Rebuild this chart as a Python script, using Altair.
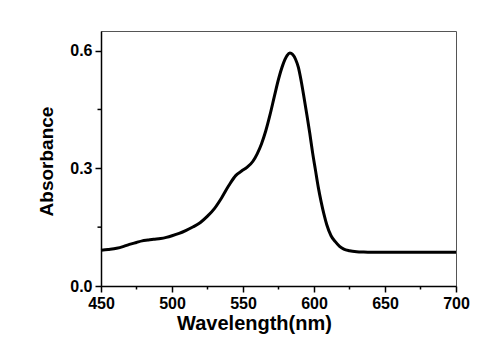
import altair as alt
import pandas as pd

wavelength = [450, 455, 461, 466, 470, 475, 479, 483, 487, 492, 496, 500, 505, 510, 515,
              520, 525, 530, 535, 540, 545, 549, 553, 557, 560, 563, 566, 569, 572, 575,
              578, 581, 583, 585, 587, 589, 591, 593, 595, 597, 599, 601, 603, 605, 607,
              609, 612, 615, 618, 621, 625, 630, 635, 640, 660, 680, 700]
absorbance = [0.091, 0.093, 0.096, 0.101, 0.106, 0.111, 0.115, 0.117, 0.119, 0.121, 0.124,
              0.128, 0.134, 0.142, 0.151, 0.162, 0.178, 0.198, 0.225, 0.256, 0.282, 0.293,
              0.303, 0.318, 0.337, 0.362, 0.395, 0.436, 0.482, 0.527, 0.563, 0.587, 0.594,
              0.590, 0.578, 0.557, 0.522, 0.480, 0.436, 0.390, 0.340, 0.296, 0.252, 0.215,
              0.183, 0.156, 0.128, 0.113, 0.101, 0.094, 0.090, 0.0875, 0.0865, 0.086, 0.086,
              0.086, 0.086]
x_major = [450, 500, 550, 600, 650, 700]
x_minor = [475, 525, 575, 625, 675]
y_major = [0.0, 0.3, 0.6]
y_minor = [0.15, 0.45]

FONT = "Liberation Sans"
XDOM = [450, 700]
YDOM = [0, 0.65]

df = pd.DataFrame({"wl": wavelength, "A": absorbance})

xs = alt.Scale(domain=XDOM, nice=False, zero=False)
ys = alt.Scale(domain=YDOM, nice=False, zero=False)

xaxis = alt.Axis(
    values=x_major, title="Wavelength(nm)", titleX=153, titleY=43,
    titleBaseline="alphabetic", titleAlign="center", labelFlush=False)
yaxis = alt.Axis(
    values=y_major, format=".1f", title="Absorbance", titleX=-55, titleY=130,
    titleAngle=-90, titleAlign="center", titleBaseline="middle", titleFontSize=19)

line = alt.Chart(df).mark_line(color="black", strokeWidth=3, interpolate="monotone").encode(
    x=alt.X("wl:Q", scale=xs, axis=xaxis),
    y=alt.Y("A:Q", scale=ys, axis=yaxis),
)

xm = alt.Chart(pd.DataFrame({"wl": x_minor})).mark_rule(color="black", strokeWidth=1.5).encode(
    x=alt.X("wl:Q", scale=xs, axis=xaxis),
    y=alt.value(255), y2=alt.value(258.5),
)
ym = alt.Chart(pd.DataFrame({"A": y_minor})).mark_rule(color="black", strokeWidth=1.5).encode(
    y=alt.Y("A:Q", scale=ys, axis=yaxis),
    x=alt.value(-3.5), x2=alt.value(0),
)

chart = alt.layer(line, xm, ym).properties(
    width=355, height=255,
    background="white",
    autosize=alt.AutoSizeParams(type="none"),
    padding={"left": 101, "top": 31, "right": 34, "bottom": 66},
).configure_view(
    stroke="#555555", strokeWidth=1
).configure_axis(
    grid=False, domainColor="black", domainWidth=1.5, tickColor="black", tickWidth=1.5,
    tickSize=6, labelFont=FONT, labelFontSize=16, labelFontWeight="bold", labelColor="black",
    titleFont=FONT, titleFontSize=20, titleFontWeight="bold", titleColor="black",
    labelPadding=3,
)

chart.save("out.html", embed_options={"renderer": "svg", "actions": False})
